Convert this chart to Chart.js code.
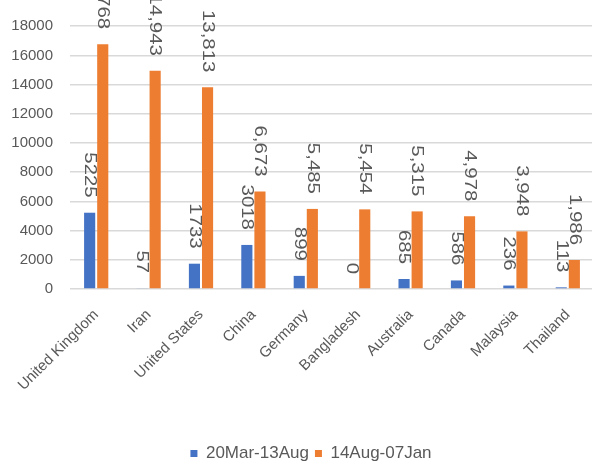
<!DOCTYPE html>
<html>
<head>
<meta charset="utf-8">
<script src="https://cdn.jsdelivr.net/npm/chart.js@4/dist/chart.umd.min.js"></script>
<style>
  html, body { margin: 0; padding: 0; background: #fff; overflow: hidden; }
  body { width: 592px; height: 466px; position: relative; }
  #chart { position: absolute; left: 0; top: -40px; width: 622px; height: 512px; }
</style>
</head>
<body>
<canvas id="chart" width="622" height="512"></canvas>
<script>
// Countries and counts for the two periods
const countries = ['United Kingdom', 'Iran', 'United States', 'China', 'Germany',
                   'Bangladesh', 'Australia', 'Canada', 'Malaysia', 'Thailand'];
const period1Label = '20Mar-13Aug';
const period2Label = '14Aug-07Jan';
const period1 = [5225, 57, 1733, 3018, 899, 0, 685, 586, 236, 113];
const period2 = [16768, 14943, 13813, 6673, 5485, 5454, 5315, 4978, 3948, 1986];
const yTicks = { min: 0, max: 20000, step: 2000 };

const TEXT = '#595959';
const FONT = '"Liberation Sans", Arial, sans-serif';

// Vertical value labels above each bar; the second series uses thousands separators
const barValueLabels = {
  id: 'barValueLabels',
  afterDatasetsDraw(chart) {
    const ctx = chart.ctx;
    chart.data.datasets.forEach((ds, di) => {
      const meta = chart.getDatasetMeta(di);
      meta.data.forEach((bar, i) => {
        const v = ds.data[i];
        const txt = di === 1 ? v.toLocaleString('en-US') : String(v);
        ctx.save();
        ctx.translate(bar.x, bar.y - 15);
        ctx.rotate(Math.PI / 2);
        ctx.scale(1.2, 1);
        ctx.font = '17px ' + FONT;
        ctx.fillStyle = TEXT;
        ctx.textAlign = 'right';
        ctx.textBaseline = 'middle';
        ctx.fillText(txt, 0, 0);
        ctx.restore();
      });
    });
  }
};

new Chart(document.getElementById('chart'), {
  type: 'bar',
  data: {
    labels: countries,
    datasets: [
      { label: period1Label, data: period1, backgroundColor: '#4472C4' },
      { label: period2Label, data: period2, backgroundColor: '#ED7D31' }
    ]
  },
  options: {
    responsive: false,
    animation: false,
    devicePixelRatio: 1,
    categoryPercentage: 0.5,
    barPercentage: 0.85,
    layout: { padding: { top: 37, right: 0, left: 0, bottom: 0 } },
    plugins: {
      legend: {
        position: 'bottom',
        labels: {
          font: { family: FONT, size: 17 },
          color: TEXT,
          boxWidth: 7,
          boxHeight: 7,
          padding: 6
        }
      },
      tooltip: { enabled: false }
    },
    scales: {
      x: {
        grid: { display: false },
        border: { display: false },
        ticks: {
          font: { family: FONT, size: 15 },
          color: TEXT,
          maxRotation: 45,
          minRotation: 45,
          autoSkip: false,
          padding: 9
        },
        afterFit(scale) { scale.height = 150; }
      },
      y: {
        min: yTicks.min,
        max: yTicks.max,
        grid: { color: '#d9d9d9', lineWidth: 1.5, drawTicks: false },
        border: { display: false },
        ticks: {
          stepSize: yTicks.step,
          font: { family: FONT, size: 15 },
          color: TEXT,
          padding: 17,
          // the topmost tick stays unlabelled
          callback: v => (v >= yTicks.max ? '' : String(v))
        },
        afterFit(scale) { scale.width = 70; }
      },
      // empty strip on the right so the plot runs to the page edge
      yRight: {
        position: 'right',
        min: yTicks.min,
        max: yTicks.max,
        grid: { display: false },
        border: { display: false },
        ticks: { display: false },
        afterFit(scale) { scale.width = 28; }
      }
    }
  },
  plugins: [barValueLabels]
});
</script>
</body>
</html>
